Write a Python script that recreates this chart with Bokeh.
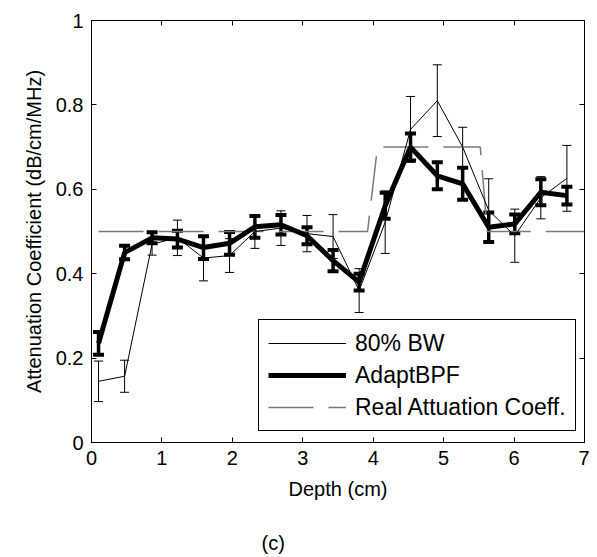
from bokeh.plotting import figure
from bokeh.models import (Range1d, FixedTicker, LinearAxis, Legend, LegendItem, Whisker, TeeHead,
                          ColumnDataSource, NumeralTickFormatter, CustomJSTickFormatter, Title)
from bokeh.embed import file_html
from bokeh.resources import INLINE

# ---- data ----
depth = [0.10, 0.47, 0.86, 1.22, 1.59, 1.96, 2.32, 2.69, 3.06, 3.43, 3.80, 4.17, 4.53, 4.91, 5.27, 5.64, 6.01, 6.38, 6.75]
bw80 = [0.145, 0.157, 0.470, 0.485, 0.437, 0.443, 0.500, 0.508, 0.495, 0.488, 0.360, 0.522, 0.742, 0.810, 0.700, 0.550, 0.490, 0.580, 0.626]
bw80_err = [0.048, 0.038, 0.026, 0.042, 0.054, 0.040, 0.040, 0.041, 0.043, 0.052, 0.052, 0.074, 0.078, 0.085, 0.047, 0.075, 0.063, 0.050, 0.078]
adapt = [0.235, 0.450, 0.485, 0.482, 0.462, 0.472, 0.511, 0.516, 0.490, 0.431, 0.380, 0.561, 0.700, 0.632, 0.613, 0.510, 0.518, 0.593, 0.585]
adapt_err = [0.027, 0.016, 0.013, 0.020, 0.027, 0.027, 0.026, 0.023, 0.020, 0.025, 0.020, 0.031, 0.032, 0.032, 0.038, 0.035, 0.022, 0.031, 0.021]
real_depth = [0.10, 3.92, 4.06, 5.52, 5.62, 7.0]
real_coeff = [0.5, 0.5, 0.7, 0.7, 0.5, 0.5]
x_ticks = [0, 1, 2, 3, 4, 5, 6, 7]
y_ticks = [0, 0.2, 0.4, 0.6, 0.8, 1]

FONT = "Liberation Sans"

p = figure(width=589, height=557, output_backend="svg", toolbar_location=None,
           x_range=Range1d(0, 7), y_range=Range1d(0, 1),
           min_border_left=91, min_border_right=5, min_border_top=20, min_border_bottom=115)
p.xgrid.visible = False
p.ygrid.visible = False
p.outline_line_color = "black"
p.outline_line_width = 1
p.background_fill_color = "white"
p.border_fill_color = "white"

for ax in (p.xaxis[0], p.yaxis[0]):
    ax.major_tick_in = 5
    ax.major_tick_out = 0
    ax.minor_tick_line_color = None
    ax.axis_line_color = "black"
    ax.major_tick_line_color = "black"
    ax.major_label_text_font = FONT
    ax.major_label_text_font_size = "20px"
    ax.major_label_text_color = "black"
    ax.axis_label_text_font = FONT
    ax.axis_label_text_font_size = "20px"
    ax.axis_label_text_font_style = "normal"
    ax.axis_label_text_color = "black"

p.xaxis.ticker = FixedTicker(ticks=x_ticks)
p.yaxis.ticker = FixedTicker(ticks=y_ticks)
p.yaxis.formatter = NumeralTickFormatter(format="0.[0]")
p.xaxis.formatter = NumeralTickFormatter(format="0")
p.xaxis.axis_label = "Depth (cm)"
p.yaxis.axis_label = "Attenuation Coefficient (dB/cm/MHz)"
p.xaxis.major_label_standoff = 8
p.yaxis.major_label_standoff = 8
p.xaxis.axis_label_standoff = 10
p.yaxis.axis_label_standoff = 8

empty = CustomJSTickFormatter(code="return ''")
for side, tk in (("right", y_ticks), ("above", x_ticks)):
    ax = LinearAxis(ticker=FixedTicker(ticks=tk), formatter=empty, major_tick_in=5, major_tick_out=0,
                    minor_tick_line_color=None, major_label_standoff=0,
                    major_label_text_font_size="1px", axis_line_color="black")
    p.add_layout(ax, side)

# real attenuation
r_real = p.line(real_depth, real_coeff, line_color="#7a7a7a", line_width=1.5, line_dash="45 15")

# 80% BW
src_bw = ColumnDataSource(dict(x=depth, y=bw80,
                               lo=[v - e for v, e in zip(bw80, bw80_err)],
                               hi=[v + e for v, e in zip(bw80, bw80_err)]))
p.add_layout(Whisker(source=src_bw, base="x", lower="lo", upper="hi", line_color="black", line_width=1,
                     lower_head=TeeHead(size=9, line_color="black", line_width=1),
                     upper_head=TeeHead(size=9, line_color="black", line_width=1)))
r_bw = p.line("x", "y", source=src_bw, line_color="black", line_width=1)

# AdaptBPF
src_ad = ColumnDataSource(dict(x=depth, y=adapt,
                               lo=[v - e for v, e in zip(adapt, adapt_err)],
                               hi=[v + e for v, e in zip(adapt, adapt_err)]))
p.add_layout(Whisker(source=src_ad, base="x", lower="lo", upper="hi", line_color="black", line_width=3.5,
                     lower_head=TeeHead(size=11, line_color="black", line_width=4),
                     upper_head=TeeHead(size=11, line_color="black", line_width=4)))
r_ad = p.line("x", "y", source=src_ad, line_color="black", line_width=5)

legend = Legend(items=[LegendItem(label="80% BW", renderers=[r_bw]),
                       LegendItem(label="AdaptBPF", renderers=[r_ad]),
                       LegendItem(label="Real Attuation Coeff.", renderers=[r_real])],
                location=(167, 11), margin=0, padding=9, spacing=4,
                label_height=28, glyph_height=28, glyph_width=78, label_standoff=9,
                label_text_font=FONT, label_text_font_size="23px", label_text_color="black",
                border_line_color="black", border_line_alpha=1, border_line_width=1,
                background_fill_alpha=1)
p.add_layout(legend)

cap = Title(text="\n(c)", align="left", offset=170, vertical_align="top", standoff=0,
            text_font=FONT, text_font_size="20px", text_font_style="normal", text_color="black",
            text_line_height=1.35)
p.add_layout(cap, "below")

open("out.html", "w").write(file_html(p, INLINE))
